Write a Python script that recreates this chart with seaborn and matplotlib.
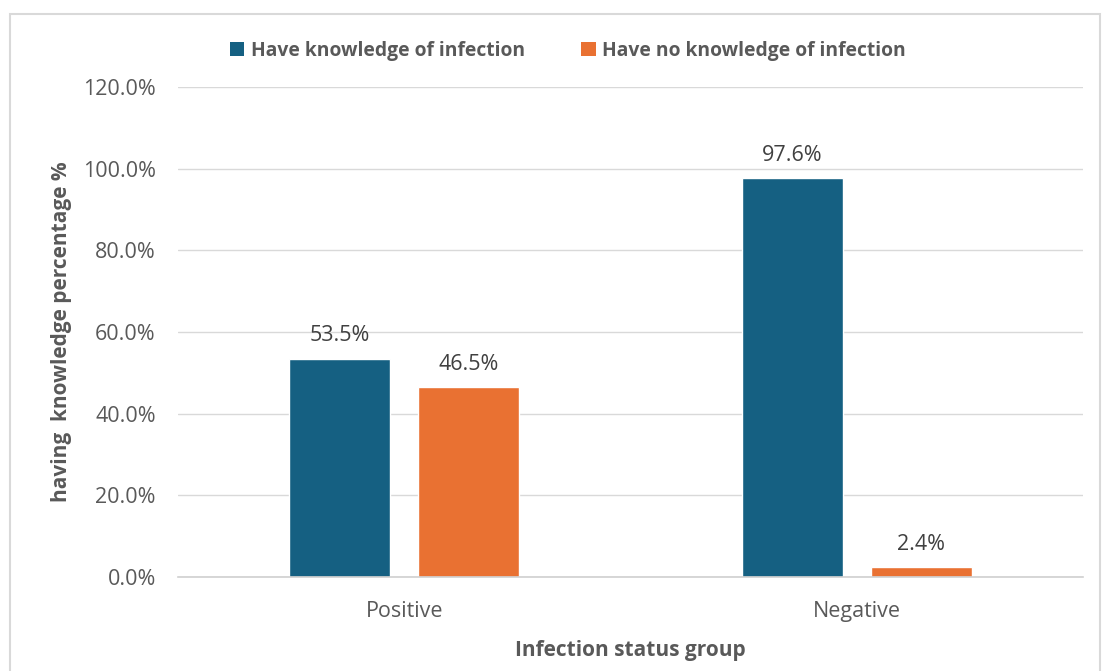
import matplotlib
matplotlib.use("Agg")
import matplotlib.pyplot as plt
import seaborn as sns
import pandas as pd
from matplotlib.patches import Rectangle, Patch
from matplotlib.ticker import FuncFormatter

groups = ["Positive", "Negative"]
series = ["Have knowledge of infection", "Have no knowledge of infection"]
have_knowledge = [53.5, 97.6]
no_knowledge = [46.5, 2.4]
colors = ["#156082", "#E97132"]

df = pd.DataFrame({
    "group": groups * 2,
    "series": [series[0]] * 2 + [series[1]] * 2,
    "value": have_knowledge + no_knowledge,
})

sns.set_theme(style="white")
plt.rcParams["font.family"] = ["Open Sans", "DejaVu Sans"]

fig = plt.figure(figsize=(11.03, 6.71), dpi=100)
ax = fig.add_axes([178 / 1103, 1 - 577 / 671, (1083 - 178) / 1103, (577 - 87) / 671])

sns.barplot(data=df, x="group", y="value", hue="series", order=groups,
            hue_order=series, palette=colors, width=0.57, gap=0.22,
            saturation=1, ax=ax, legend=False, errorbar=None)

ax.set_ylim(0, 120)
ax.set_xlim(-0.5, 1.5)
ax.set_yticks(range(0, 121, 20))
ax.yaxis.set_major_formatter(FuncFormatter(lambda v, p: f"{v:.1f}%"))
ax.grid(axis="y", color="#D9D9D9", linewidth=1)
ax.set_axisbelow(True)
for s in ["top", "right", "left"]:
    ax.spines[s].set_visible(False)
ax.spines["bottom"].set_color("#D0D0D0")
ax.spines["bottom"].set_linewidth(1.2)
ax.tick_params(axis="both", length=0, labelsize=15.5, labelcolor="#595959")
ax.tick_params(axis="y", pad=16)
ax.tick_params(axis="x", pad=17)

for cont in ax.containers:
    ax.bar_label(cont, labels=[f"{v:.1f}%" for v in cont.datavalues],
                 padding=9, fontsize=15.5, color="#404040")

ax.set_xlabel("Infection status group", fontsize=15, fontweight="bold",
              color="#595959", labelpad=13)
ax.set_ylabel("having  knowledge percentage %", fontsize=15, fontweight="bold",
              color="#595959", labelpad=8)

handles = [Patch(facecolor=c, edgecolor="none") for c in colors]
fig.legend(handles, series, loc="center", bbox_to_anchor=(568 / 1103, 1 - 51 / 671),
           ncol=2, frameon=False, handlelength=0.75, handleheight=0.75,
           handletextpad=0.35, columnspacing=2.9,
           prop={"weight": "bold", "size": 13.9})
for t in fig.legends[0].get_texts():
    t.set_color("#595959")

fig.patches.append(Rectangle((10 / 1103, -0.05), (1100 - 10) / 1103, 1.05 - 14 / 671,
                             transform=fig.transFigure, fill=False,
                             edgecolor="#D9D9D9", linewidth=1.5))

fig.savefig("out.png", dpi=100, facecolor="white")
